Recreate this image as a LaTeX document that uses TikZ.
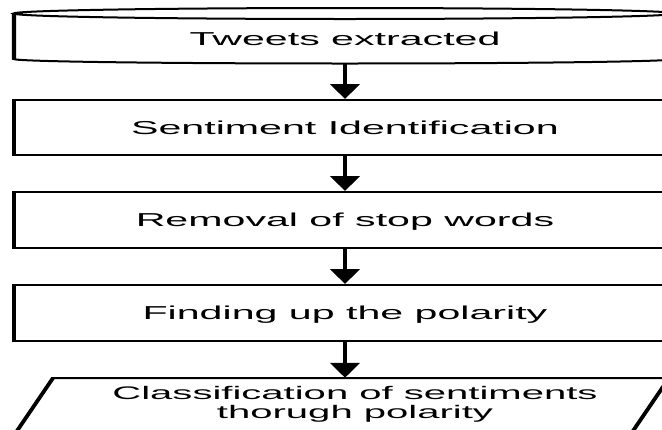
\documentclass[tikz,border=0pt]{standalone}
\usepackage{fontspec}
\setmainfont{Liberation Sans}
\usetikzlibrary{arrows.meta}
\begin{document}
\begin{tikzpicture}[x=1pt,y=-1pt,
  lin/.style={line width=2pt,black},
  boxnode/.style={draw,lin,minimum width=300.9pt,inner sep=0pt,
    text height=13.5pt,text depth=0pt,
    font=\fontsize{18.7}{18.3}\selectfont},
  plain/.style={inner sep=0pt,text height=13.5pt,text depth=0pt,
    font=\fontsize{18.7}{18.3}\selectfont},
  arr/.style={lin,-{Triangle[width=13.2pt,length=15pt]}}]
\useasboundingbox (0,0) rectangle (662,429);
\fill[white] (0,0) rectangle (662,429);
\clip (0,0) rectangle (662,429);
\begin{scope}[transform canvas={xscale=2.2},x={(0.454545pt,0pt)}]
  % top box (cylinder-like)
  \node[plain,minimum height=49pt,minimum width=300.9pt] (b1) at (345,38.5) {Tweets extracted};
  \draw[lin] (14,13.5) -- (14,59) arc[start angle=180,end angle=360,x radius=150.45pt,y radius=4.5pt] -- (676,13.5);
  \draw[lin] (345,13.5) ellipse[x radius=150.45pt,y radius=5.5pt];
  % boxes
  \node[boxnode,minimum height=55pt] (b2) at (345,127.5) {Sentiment Identification};
  \node[boxnode,minimum height=56pt] (b3) at (345,220) {Removal of stop words};
  \node[boxnode,minimum height=56pt] (b4) at (345,313) {Finding up the polarity};
  % parallelogram
  \node[inner sep=0pt,minimum height=52.8pt,align=center,
    font=\fontsize{18.2}{18.3}\selectfont] (b5) at (355,404.4)
    {Classification of sentiments\\thorugh polarity};
  \draw[lin] (53,378) -- (669,378) -- (626.8,440) -- (10.8,440) -- cycle;
  % arrows
  \draw[arr] (b1.south) -- (b2.north);
  \draw[arr] (b2.south) -- (b3.north);
  \draw[arr] (b3.south) -- (b4.north);
  \draw[arr] (b4.south) -- (b4.south |- b5.north);
\end{scope}
\end{tikzpicture}
\end{document}
